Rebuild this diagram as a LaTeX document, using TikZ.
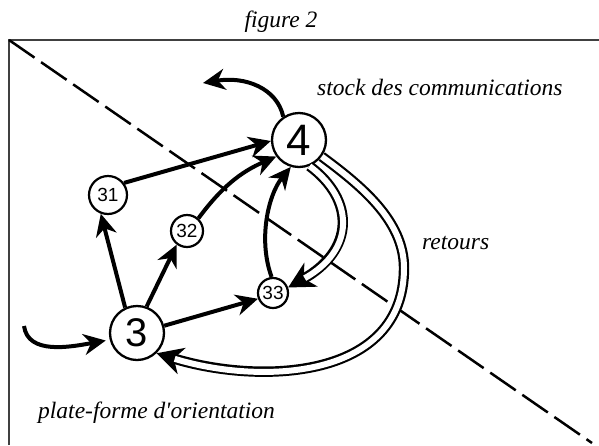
\documentclass[tikz,border=0pt]{standalone}
\usepackage{fontspec}
\setmainfont{Liberation Serif}
\setsansfont{Liberation Sans}
\usetikzlibrary{arrows.meta}

\begin{document}
\begin{tikzpicture}[x=1pt,y=-1pt,
  bigcirc/.style={circle,draw=black,line width=2.3pt,minimum size=54pt,inner sep=0pt,font=\fontsize{44}{44}\sffamily},
  smallcirc/.style={circle,draw=black,line width=2.2pt,inner sep=0pt,font=\fontsize{19}{19}\sffamily},
  arr/.style={line width=4pt,-{Stealth[length=22pt,width=21pt,inset=7pt]}},
  dbl/.style={preaction={draw,black,line width=10.4pt,shorten >=0pt,-{Stealth[length=26pt,width=27pt,inset=8pt]}},
    draw=white,line width=6pt,shorten >=19pt},
  lab/.style={font=\fontsize{23.5}{28}\selectfont\itshape,inner sep=0pt}]

\useasboundingbox (0,0) rectangle (599,445);

% frame and dividing line
\draw[line width=1.6pt,black!75] (9,445) -- (9,40) -- (599,40);
\draw[line width=2.5pt,dash pattern=on 31pt off 8pt] (9,40) -- (592,443);

% the nodes
\node[bigcirc,fill=white] (c4) at (299,140) {4};
\node[bigcirc,fill=white,font=\fontsize{40}{40}\sffamily] (c3) at (137,333) {3};
\node[smallcirc,fill=white,minimum size=38pt] (c31) at (108,195) {31};
\node[smallcirc,fill=white,minimum size=32pt] (c32) at (187,231) {32};
\node[smallcirc,fill=white,minimum size=30pt] (c33) at (273,293) {33};

% from 3 to 4
\draw[arr] (c3.115) -- (c31.-111);
\draw[arr] (c3.70) -- (c32.-127);
\draw[arr] (c3.15) -- (c33.201);
\draw[arr] (c31.37) -- (c4.182);
\draw[arr] (c32.48) to[bend left=15] (c4.216);
\draw[arr] (c33.95) .. controls (258,240) and (268,195) .. (c4.253);

% retours
\draw[dbl] (c4.-68) .. controls (355,200) and (355,250) .. (c33.20);
\draw[dbl] (c4.-36) .. controls (360,185) and (404,220) .. (404,268)
  .. controls (404,380) and (260,385) .. (c3.-46);

% in and out
\coordinate (inc) at (24,326);
\coordinate (outc) at (203,83);
\draw[arr,shorten >=4pt] (inc) .. controls (28,355) and (70,347) .. (c3.194);
\draw[arr] (c4.124) .. controls (277,88) and (245,76) .. (outc);

% labels
\node[lab,anchor=base] (title) at (281,27) {figure 2};
\node[lab,anchor=base west] (stocklab) at (317,95) {stock des communications};
\node[lab,anchor=base west] (retlab) at (422,249) {retours};
\node[lab,anchor=base west] (platelab) at (38,418) {plate-forme d\textquotesingle orientation};

\end{tikzpicture}
\end{document}
